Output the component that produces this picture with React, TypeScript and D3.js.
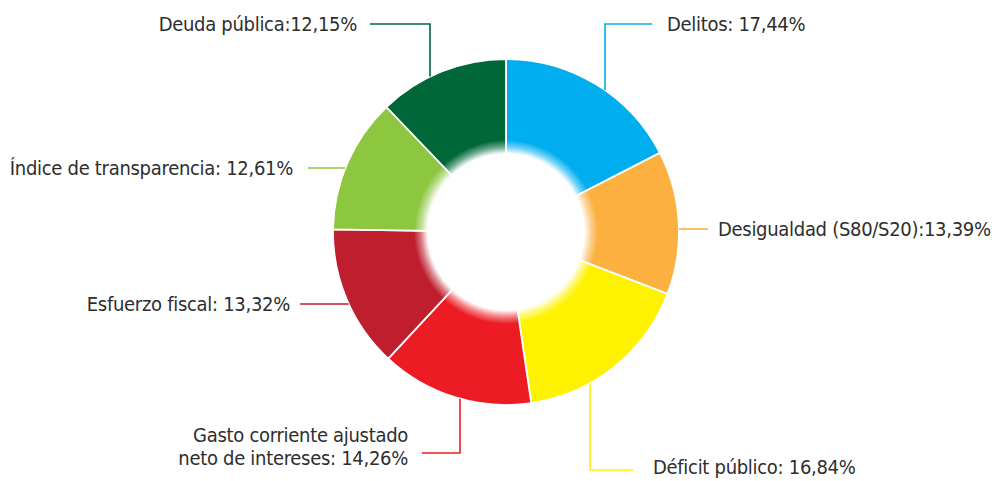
import React from 'react';
import * as d3 from 'd3';

const labels = [
  'Delitos: 17,44%',
  'Desigualdad (S80/S20):13,39%',
  'Déficit público: 16,84%',
  'Gasto corriente ajustado|neto de intereses: 14,26%',
  'Esfuerzo fiscal: 13,32%',
  'Índice de transparencia: 12,61%',
  'Deuda pública:12,15%',
];
const values = [17.44, 13.39, 16.84, 14.26, 13.32, 12.61, 12.15];
const colors = ['#00aeef', '#fbb040', '#fff200', '#ed1c24', '#be1e2d', '#8dc63f', '#006838'];

const width = 994;
const height = 481;
const cx = 506;
const cy = 232;
const outerR = 173;
const innerR = 76;

// leader layout: 'v' = vertical from the rim to an elbow then horizontal, 'h' = horizontal from the rim
type Lead = { kind: 'v' | 'h'; x?: number; y: number; x2: number; tx: number; ty: number; anchor: string; side: number };
const leads: Lead[] = [
  { kind: 'v', x: 605, y: 24, x2: 652, tx: 667, ty: 24, anchor: 'start', side: -1 },
  { kind: 'h', y: 229, x2: 708, tx: 718, ty: 229, anchor: 'start', side: 1 },
  { kind: 'v', x: 590, y: 470, x2: 633, tx: 653, ty: 467, anchor: 'start', side: 1 },
  { kind: 'v', x: 460, y: 453, x2: 422, tx: 408, ty: 446, anchor: 'end', side: 1 },
  { kind: 'h', y: 304, x2: 300, tx: 290, ty: 304, anchor: 'end', side: -1 },
  { kind: 'h', y: 168, x2: 308, tx: 293, ty: 168, anchor: 'end', side: -1 },
  { kind: 'v', x: 430, y: 24, x2: 370, tx: 357, ty: 24, anchor: 'end', side: -1 },
];

export default function App() {
  const pie = d3.pie<number>().sort(null).value(d => d)(values);
  const arc = d3.arc<d3.PieArcDatum<number>>().innerRadius(innerR).outerRadius(outerR);

  const leaderPath = (l: Lead) => {
    if (l.kind === 'v') {
      const dx = (l.x as number) - cx;
      const ey = cy + l.side * Math.sqrt(outerR * outerR - dx * dx);
      return `M${l.x},${ey}V${l.y}H${l.x2}`;
    }
    const dy = l.y - cy;
    const ex = cx + (l.x2 > cx ? 1 : -1) * Math.sqrt(outerR * outerR - dy * dy);
    return `M${ex},${l.y}H${l.x2}`;
  };

  return (
    <svg width={width} height={height} style={{ position: 'absolute', left: 0, top: 0 }}>
      <defs>
        <radialGradient id="glow" cx={cx} cy={cy} r={92} gradientUnits="userSpaceOnUse">
          <stop offset="0.85" stopColor="#fff" stopOpacity={1} />
          <stop offset="0.92" stopColor="#fff" stopOpacity={0.45} />
          <stop offset="1" stopColor="#fff" stopOpacity={0} />
        </radialGradient>
      </defs>
      <rect width={width} height={height} fill="#fff" />
      <g transform={`translate(${cx},${cy})`}>
        {pie.map((d, i) => (
          <path key={i} d={arc(d) as string} fill={colors[i]} stroke="#fff" strokeWidth={1.8} />
        ))}
      </g>
      <circle cx={cx} cy={cy} r={92} fill="url(#glow)" />
      {leads.map((l, i) => (
        <path key={i} d={leaderPath(l)} fill="none" stroke={colors[i]} strokeWidth={1.6} />
      ))}
      {labels.map((t, i) => {
        const l = leads[i];
        const lines = t.split('|');
        return (
          <text key={i} x={l.tx} y={l.ty} textAnchor={l.anchor} fill="#2e2e2e" letterSpacing={-0.3}
            fontFamily="'DejaVu Sans Condensed', 'Liberation Sans Narrow', sans-serif" fontSize={20}>
            {lines.map((s, j) => (
              <tspan key={j} x={l.tx} dy={j === 0 ? (lines.length > 1 ? -4 : 7) : 23}>{s}</tspan>
            ))}
          </text>
        );
      })}
    </svg>
  );
}
